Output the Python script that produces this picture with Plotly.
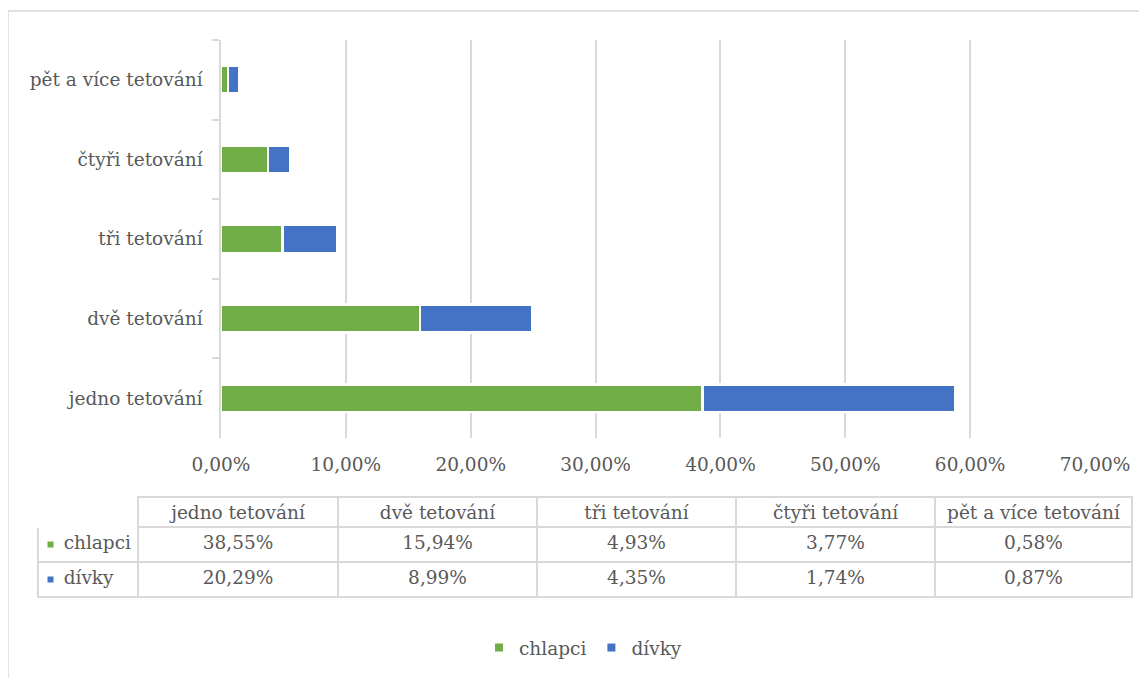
import plotly.graph_objects as go

categories = ["jedno tetování", "dvě tetování", "tři tetování", "čtyři tetování", "pět a více tetování"]
chlapci = [38.55, 15.94, 4.93, 3.77, 0.58]
divky = [20.29, 8.99, 4.35, 1.74, 0.87]
series_names = ["chlapci", "dívky"]
colors = ["#70AD47", "#4472C4"]

OFF = 8  # page body margin
W, H = 1147 - OFF, 678 - OFF
FONT = "DejaVu Serif"
FS = 18.5
TXT = "#595959"
GRID = "#d9d9d9"

def px_x(v):
    return (v - OFF) / W

def px_y(v):
    return 1 - (v - OFF) / H

fig = go.Figure()
for name, vals, col in zip(series_names, [chlapci, divky], colors):
    fig.add_trace(go.Bar(
        y=categories, x=[v / 100 for v in vals], name=name, orientation="h",
        marker=dict(color=col, line=dict(color="white", width=2.5)),
        width=0.35, showlegend=False, xaxis="x", yaxis="y",
    ))
    fig.add_trace(go.Scatter(
        x=[None], y=[None], mode="markers", name=name,
        marker=dict(symbol="square", size=8, color=col), showlegend=True,
    ))

def fmt(v):
    return f"{v:.2f}%".replace(".", ",")

first_col = ["\u00a0\u00a0\u00a0" + s for s in series_names]
cell_values = [first_col] + [[fmt(a), fmt(b)] for a, b in zip(chlapci, divky)]

T_X0, T_X1, T_Y0 = 38, 1132, 497
HDR_H, ROW_H = 30, 35

fig.add_trace(go.Table(
    domain=dict(x=[px_x(T_X0), px_x(T_X1)], y=[px_y(T_Y0 + HDR_H + 2 * ROW_H + 2), px_y(T_Y0)]),
    columnwidth=[100, 200, 199, 199, 199, 197],
    header=dict(
        values=[""] + categories,
        height=HDR_H,
        align=["left"] + ["center"] * 5,
        line=dict(color=["white"] + [GRID] * 5, width=1.5),
        fill=dict(color="white"),
        font=dict(family=FONT, size=FS, color=TXT),
    ),
    cells=dict(
        values=cell_values,
        height=ROW_H,
        align=["left"] + ["center"] * 5,
        line=dict(color=GRID, width=1.5),
        fill=dict(color="white"),
        font=dict(family=FONT, size=FS, color=TXT),
    ),
))

key_shapes = []
for i, col in enumerate(colors):
    cy = T_Y0 + HDR_H + ROW_H * i + ROW_H / 2
    key_shapes.append(dict(
        type="rect", xref="paper", yref="paper",
        x0=px_x(47.5), x1=px_x(53.5), y0=px_y(cy + 3), y1=px_y(cy - 3),
        line=dict(width=0), fillcolor=col, layer="above",
    ))

fig.update_layout(
    width=W, height=H,
    margin=dict(l=0, r=0, t=0, b=0, pad=0),
    paper_bgcolor="white", plot_bgcolor="white",
    barmode="stack",
    separators=", ",
    font=dict(family=FONT, size=FS, color=TXT),
    xaxis=dict(
        domain=[px_x(221), px_x(1095)], range=[0, 0.7], dtick=0.1,
        tickformat=".2%", showgrid=True, gridcolor=GRID, gridwidth=1.5,
        zeroline=False, showline=False, ticks="", ticklabelstandoff=13,
        tickfont=dict(family=FONT, size=FS, color=TXT), anchor="y",
        automargin=False, fixedrange=True,
    ),
    yaxis=dict(
        domain=[px_y(438), px_y(40)],
        categoryorder="array", categoryarray=categories,
        showline=True, linecolor=GRID, linewidth=1.5,
        ticks="outside", ticklen=7, tickcolor=GRID, tickwidth=1.5,
        tickson="boundaries", showgrid=False, ticklabelstandoff=13,
        tickfont=dict(family=FONT, size=FS, color=TXT), anchor="x",
        automargin=False, fixedrange=True,
    ),
    legend=dict(
        orientation="h", x=px_x(583), xanchor="center", y=px_y(648), yanchor="middle",
        font=dict(family=FONT, size=FS, color=TXT), itemwidth=30,
        bgcolor="rgba(0,0,0,0)", traceorder="normal",
    ),
    shapes=[dict(
        type="rect", xref="paper", yref="paper",
        x0=px_x(8), x1=px_x(1170), y0=px_y(700), y1=px_y(11),
        line=dict(color=GRID, width=1.5), fillcolor="rgba(0,0,0,0)", layer="below",
    )] + key_shapes,
)

fig.write_html("out.html")
